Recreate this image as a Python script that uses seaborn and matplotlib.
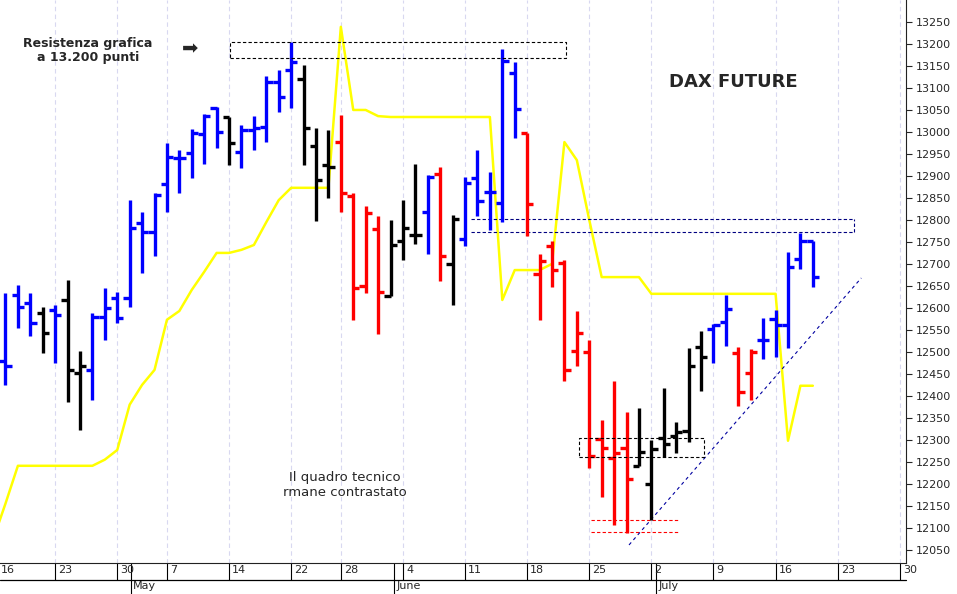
import matplotlib
matplotlib.use("Agg")
import matplotlib.pyplot as plt
import seaborn as sns
import pandas as pd
import numpy as np

sns.set_style("white")
plt.rcParams['font.family'] = ['DejaVu Sans']

# trading-day index, OHLC, colour
idx = list(range(1, 67))
opens = [12480,12630,12610,12588,12596,12618,12451,12459,12580,12622,12622,12792,12773,12882,12940,12952,12995,13054,13033,12955,13005,13012,13114,13141,13120,12967,12925,
         12977,12855,12650,12779,12628,12751,12766,12817,12905,12699,12756,12895,12863,12838,13135,12998,12677,12741,12703,12502,12499,12302,12258,12281,12241,12199,12304,12308,12319,12512,12552,12569,12498,12452,12527,12574,12561,12711,12751]
highs = [12633,12652,12633,12603,12607,12664,12501,12588,12645,12637,12845,12819,12862,12974,12959,13006,13041,13056,13035,13016,13036,13127,13141,13205,13152,13010,13005,
         13039,12861,12832,12809,12800,12845,12927,12901,12920,12811,12897,12958,12910,13188,13158,12998,12722,12751,12708,12592,12526,12346,12433,12364,12372,12300,12419,12340,12508,12548,12564,12630,12512,12506,12577,12595,12726,12771,12753]
lows = [12425,12554,12535,12497,12474,12387,12323,12391,12527,12565,12603,12679,12717,12819,12861,12895,12927,12963,12925,12917,12959,12978,13046,13054,12925,12798,12849,
        12819,12573,12633,12541,12626,12708,12745,12722,12661,12607,12741,12810,12777,12796,12986,12764,12573,12648,12433,12467,12236,12171,12107,12088,12241,12118,12261,12270,12296,12412,12474,12514,12377,12391,12483,12489,12508,12688,12647]
closes = [12467,12603,12565,12542,12584,12459,12467,12580,12599,12577,12781,12773,12857,12944,12940,12997,13036,13001,12974,13005,13008,13114,13080,13158,13008,12891,12921,
          12861,12645,12815,12636,12743,12781,12766,12898,12717,12802,12883,12842,12863,13161,13052,12836,12707,12687,12459,12542,12264,12281,12270,12211,12273,12279,12290,12317,12469,12488,12561,12597,12409,12499,12527,12561,12692,12753,12671]
colors = list("bbbkbkkbbbbbbbbbbbkbbbbbkkk" + "rrrrkkkbrkbbbbbrrrrrrrrrkkkkkkbbrrbbbbb")
cmap = {"b": "#0000ff", "k": "#000000", "r": "#ff0000"}

yellow_idx = list(range(0, 67))
yellow_val = [12073,12155,12241,12241,12241,12241,12241,12241,12241,12255,12277,12380,12425,12459,12573,12593,12641,12682,12725,12725,12732,12743,12795,12845,12873,12873,12873,12873,
              13239,13050,13050,13036,13034,13034,13034,13034,13034,13034,13034,13034,13034,12618,12686,12686,12686,12700,12977,12936,12800,12670,12670,12670,12670,12632,12632,12632,
              12632,12632,12632,12632,12632,12632,12632,12632,12298,12423,12423]

week_idx = [0, 5, 10, 14, 19, 24, 28, 33, 38, 43, 48, 53, 58, 63, 68, 73]
week_lbl = ["16", "23", "30", "7", "14", "22", "28", "4", "11", "18", "25", "2", "9", "16", "23", "30"]
month_idx = [11.1, 32.3, 53.4]
month_lbl = ["May", "June", "July"]
yticks = list(range(12050, 13251, 50))

W, H = 957, 594
fig = plt.figure(figsize=(W / 100, H / 100), dpi=100)
ax = fig.add_axes([0, 1 - 563 / H, 906 / W, 563 / H])

for w in week_idx:
    ax.axvline(w, color="#d8d8f0", lw=0.8, ls=(0, (4, 3)), zorder=0)

yl = pd.DataFrame({"i": yellow_idx, "v": yellow_val})
sns.lineplot(data=yl, x="i", y="v", color="#ffff00", lw=1.8, ax=ax, zorder=2)

cols = [cmap[c] for c in colors]
ax.vlines(idx, lows, highs, colors=cols, lw=2.4, zorder=3)
ax.hlines(opens, np.array(idx) - 0.5, idx, colors=cols, lw=2.4, zorder=3)
ax.hlines(closes, idx, np.array(idx) + 0.5, colors=cols, lw=2.4, zorder=3)

def dbox(x0, x1, y0, y1, c):
    ax.plot([x0, x1, x1, x0, x0], [y0, y0, y1, y1, y0], color=c, lw=0.8, ls=(0, (3, 2)), zorder=4)
dbox(19.1, 46.1, 13168, 13205, "black")
dbox(47.2, 57.2, 12261, 12305, "black")
ax.plot([38.5, 69.3], [12802, 12802], color="#000080", lw=0.8, ls=(0, (3, 2)))
ax.plot([38.5, 69.3], [12773, 12773], color="#000080", lw=0.8, ls=(0, (3, 2)))
ax.plot([69.3, 69.3], [12773, 12802], color="#000080", lw=0.8, ls=(0, (3, 2)))
ax.plot([48.1, 55.2], [12118, 12118], color="#ff0000", lw=0.8, ls=(0, (3, 2)))
ax.plot([48.1, 55.2], [12091, 12091], color="#ff0000", lw=0.8, ls=(0, (3, 2)))
ax.plot([51.2, 69.9], [12061, 12668], color="#0000a0", lw=0.8, ls=(0, (3, 3)))

ax.set_xlim(0.56, 73.5)
ax.set_ylim(12020, 13300)
ax.set_xlabel("")
ax.set_ylabel("")
ax.yaxis.tick_right()
ax.set_yticks(yticks)
ax.set_yticklabels([str(v) for v in yticks], fontsize=8)
ax.tick_params(axis="y", length=4, pad=3)
ax.set_xticks([])

tr = ax.get_xaxis_transform()
row1 = -17 / 563
row2 = -31 / 563
ax.plot([0.56, 73.5], [row1, row1], transform=tr, color="black", lw=0.9, clip_on=False)
for w, l in zip(week_idx, week_lbl):
    if w >= 0.56:
        ax.plot([w, w], [0, row1], transform=tr, color="black", lw=0.8, clip_on=False)
    xl = max(w + 0.25, 0.6)
    ax.text(xl, -0.003, l, transform=tr, ha="left", va="top", fontsize=8)
for m, l in zip(month_idx, month_lbl):
    ax.plot([m, m], [0, row2], transform=tr, color="black", lw=0.8, clip_on=False)
    ax.text(m + 0.15, row1 - 0.002, l, transform=tr, ha="left", va="top", fontsize=8)
for s in ["top", "left"]:
    ax.spines[s].set_visible(False)
for s in ["right", "bottom"]:
    ax.spines[s].set_color("#222222")

fig.text(88 / W, 1 - 50 / H, "Resistenza grafica\na 13.200 punti", ha="center", va="center",
         fontsize=9, fontweight="bold", linespacing=1.1)
fig.text(190 / W, 1 - 49 / H, "\u27a1", ha="center", va="center", fontsize=14)
fig.text(733 / W, 1 - 82 / H, "DAX FUTURE", ha="center", va="center", fontsize=13, fontweight="bold")
fig.text(345 / W, 1 - 485 / H, "Il quadro tecnico\nrmane contrastato", ha="center", va="center", fontsize=9.5,
         linespacing=1.3)

fig.savefig("out.png", dpi=100)
